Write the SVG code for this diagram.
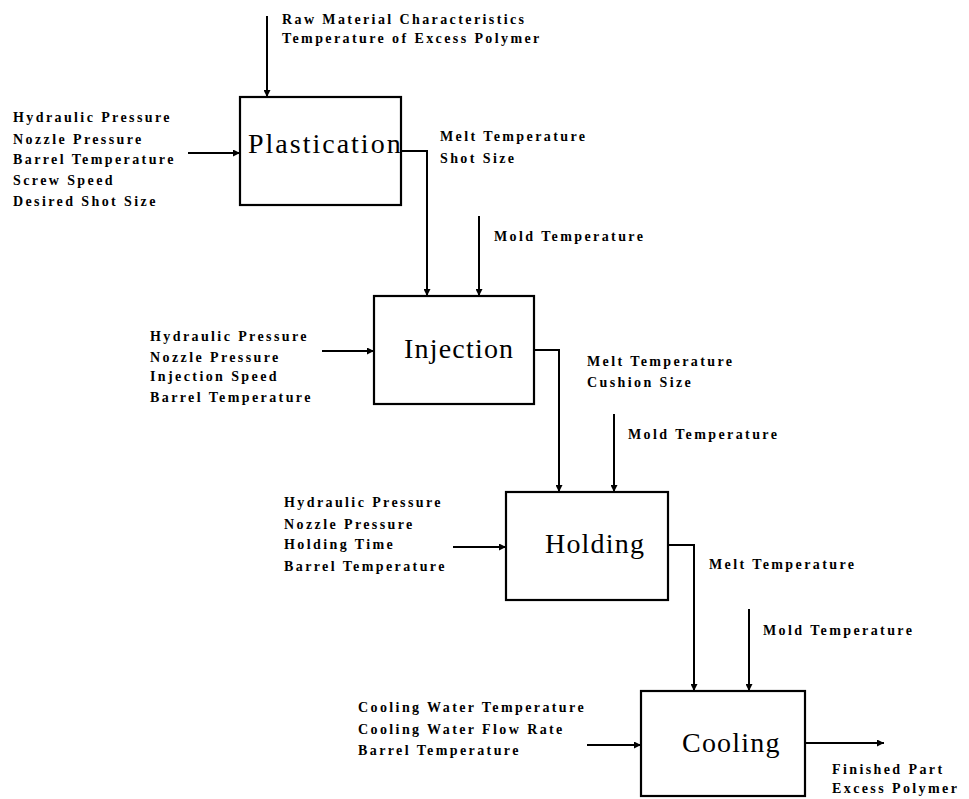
<svg xmlns="http://www.w3.org/2000/svg" width="969" height="799" viewBox="0 0 969 799">
<style>
  .box { fill: #fff; stroke: #000; stroke-width: 2.2; }
  .title { font-family: "Liberation Serif", serif; font-size: 28px; letter-spacing: 1.2px; fill: #000; }
  .lbl { font-family: "Liberation Serif", serif; font-weight: bold; font-size: 14px; letter-spacing: 2.4px; fill: #000; }
  .wire { fill: none; stroke: #000; stroke-width: 2; }
  .arr { marker-end: url(#ah); }
</style>
<defs>
  <marker id="ah" viewBox="0 0 10 10" refX="10" refY="5" markerWidth="8" markerHeight="7" markerUnits="userSpaceOnUse" orient="auto">
    <path d="M0,0 L10,5 L0,10 Z" fill="#000"/>
  </marker>
</defs>
<rect width="969" height="799" fill="#fff"/>

<g id="connectors">
  <path class="wire arr" d="M267,16 V97"/>
  <path class="wire arr" d="M188,153 H240"/>
  <path class="wire arr" d="M401,151 H427 V296"/>
  <path class="wire arr" d="M479,216 V296"/>
  <path class="wire arr" d="M322,351 H374"/>
  <path class="wire arr" d="M534,350 H559 V492"/>
  <path class="wire arr" d="M614,414 V492"/>
  <path class="wire arr" d="M453,547 H506"/>
  <path class="wire arr" d="M668,545 H694 V691"/>
  <path class="wire arr" d="M749,609 V691"/>
  <path class="wire arr" d="M587,745 H641"/>
  <path class="wire arr" d="M805,743 H884"/>
</g>

<g id="plastication">
  <rect class="box" x="240" y="97" width="161" height="108"/>
  <text class="title" x="248" y="153" style="letter-spacing:2px">Plastication</text>
</g>
<g id="injection">
  <rect class="box" x="374" y="296" width="160" height="108"/>
  <text class="title" x="404" y="358">Injection</text>
</g>
<g id="holding">
  <rect class="box" x="506" y="492" width="162" height="108"/>
  <text class="title" x="545" y="553">Holding</text>
</g>
<g id="cooling">
  <rect class="box" x="641" y="691" width="164" height="105"/>
  <text class="title" x="682" y="752">Cooling</text>
</g>

<g id="labels">
  <text class="lbl" x="282" y="24">Raw Material Characteristics</text>
  <text class="lbl" x="282" y="43">Temperature of Excess Polymer</text>

  <text class="lbl" x="13" y="122">Hydraulic Pressure</text>
  <text class="lbl" x="13" y="144">Nozzle Pressure</text>
  <text class="lbl" x="13" y="164">Barrel Temperature</text>
  <text class="lbl" x="13" y="185">Screw Speed</text>
  <text class="lbl" x="13" y="206">Desired Shot Size</text>

  <text class="lbl" x="440" y="141">Melt Temperature</text>
  <text class="lbl" x="440" y="163">Shot Size</text>
  <text class="lbl" x="494" y="241">Mold Temperature</text>

  <text class="lbl" x="150" y="341">Hydraulic Pressure</text>
  <text class="lbl" x="150" y="362">Nozzle Pressure</text>
  <text class="lbl" x="150" y="381">Injection Speed</text>
  <text class="lbl" x="150" y="402">Barrel Temperature</text>

  <text class="lbl" x="587" y="366">Melt Temperature</text>
  <text class="lbl" x="587" y="387">Cushion Size</text>
  <text class="lbl" x="628" y="439">Mold Temperature</text>

  <text class="lbl" x="284" y="507">Hydraulic Pressure</text>
  <text class="lbl" x="284" y="529">Nozzle Pressure</text>
  <text class="lbl" x="284" y="549">Holding Time</text>
  <text class="lbl" x="284" y="571">Barrel Temperature</text>

  <text class="lbl" x="709" y="569">Melt Temperature</text>
  <text class="lbl" x="763" y="635">Mold Temperature</text>

  <text class="lbl" x="358" y="712">Cooling Water Temperature</text>
  <text class="lbl" x="358" y="734">Cooling Water Flow Rate</text>
  <text class="lbl" x="358" y="755">Barrel Temperature</text>

  <text class="lbl" x="832" y="774">Finished Part</text>
  <text class="lbl" x="832" y="793">Excess Polymer</text>
</g>
</svg>
